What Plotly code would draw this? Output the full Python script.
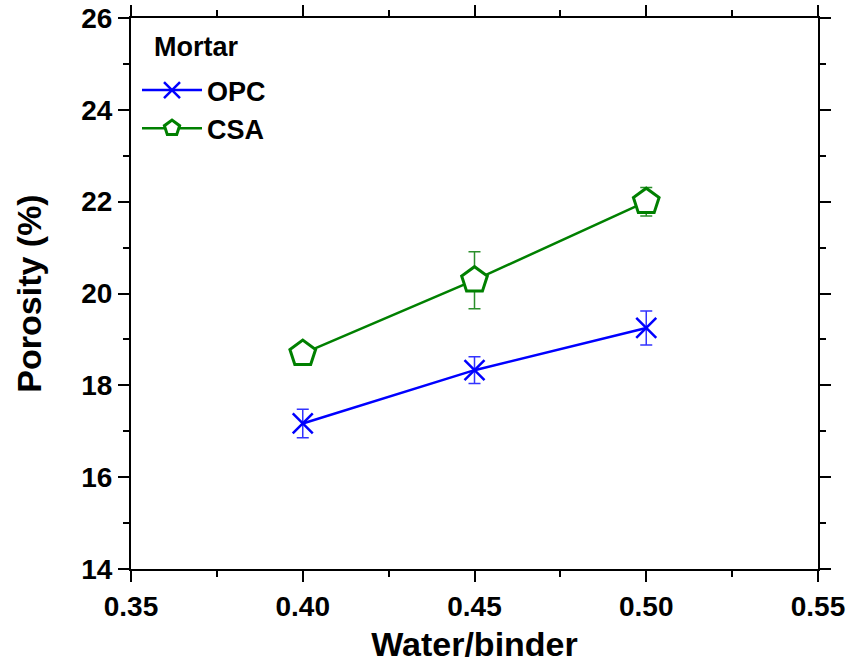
import plotly.graph_objects as go

wb = [0.40, 0.45, 0.50]
opc = [17.17, 18.33, 19.25]
opc_err = [0.31, 0.29, 0.37]
csa = [18.69, 20.29, 22.0]
csa_err = [0.1, 0.62, 0.31]

x_ticks = [0.35, 0.40, 0.45, 0.50, 0.55]
y_ticks = [14, 16, 18, 20, 22, 24, 26]

BLUE = "#0000FF"
GREEN = "#008000"
FONT = "Liberation Sans, Arial, sans-serif"

fig = go.Figure()
fig.add_trace(go.Scatter(
    x=wb, y=opc, name="OPC", mode="lines+markers",
    line=dict(color=BLUE, width=2.5),
    marker=dict(symbol="x-thin", size=20, line=dict(color=BLUE, width=2.5)),
    error_y=dict(type="data", array=opc_err, color="#3333FF", thickness=1.5, width=6),
))
fig.add_trace(go.Scatter(
    x=wb, y=csa, name="CSA", mode="lines+markers",
    line=dict(color=GREEN, width=2.5),
    marker=dict(symbol="pentagon", size=27, color="white", line=dict(color=GREEN, width=3)),
    error_y=dict(type="data", array=csa_err, color="#2a8f2a", thickness=1.5, width=6),
))

axis_common = dict(
    showline=True, linecolor="black", linewidth=2, mirror="allticks",
    ticks="outside", ticklen=11, tickwidth=2, tickcolor="black",
    showgrid=False, zeroline=False, automargin=False,
    tickfont=dict(family=FONT, size=28, color="black", weight="bold"),
)

fig.update_xaxes(
    range=[0.35, 0.55], tickvals=x_ticks, tickformat=".2f",
    minor=dict(ticks="outside", ticklen=6, tickwidth=2, tickcolor="black", dtick=0.025, tick0=0.35, showgrid=False),
    title=dict(text="<b>Water/binder</b>", font=dict(family=FONT, size=34, color="black"), standoff=18),
    **axis_common,
)
fig.update_yaxes(
    range=[14, 26], tickvals=y_ticks,
    minor=dict(ticks="outside", ticklen=6, tickwidth=2, tickcolor="black", dtick=1, tick0=14, showgrid=False),
    title=dict(text="<b>Porosity (%)</b>", font=dict(family=FONT, size=34, color="black"), standoff=29),
    **axis_common,
)

fig.add_annotation(
    text="Mortar", xref="paper", yref="paper", x=(152 - 131) / 687, y=1 - (47 - 18) / 551,
    xanchor="left", yanchor="middle", showarrow=False,
    font=dict(family=FONT, size=27, color="black", weight="bold"),
)

fig.update_layout(
    width=847, height=663,
    margin=dict(l=131, r=29, t=18, b=94),
    plot_bgcolor="white", paper_bgcolor="white",
    showlegend=True,
    legend=dict(
        x=6 / 687, y=1 - (66 - 18) / 551, xanchor="left", yanchor="top",
        bgcolor="rgba(0,0,0,0)", itemwidth=60,
        font=dict(family=FONT, size=27, color="black", weight="bold"),
        tracegroupgap=0,
    ),
)

fig.write_html("out.html")
